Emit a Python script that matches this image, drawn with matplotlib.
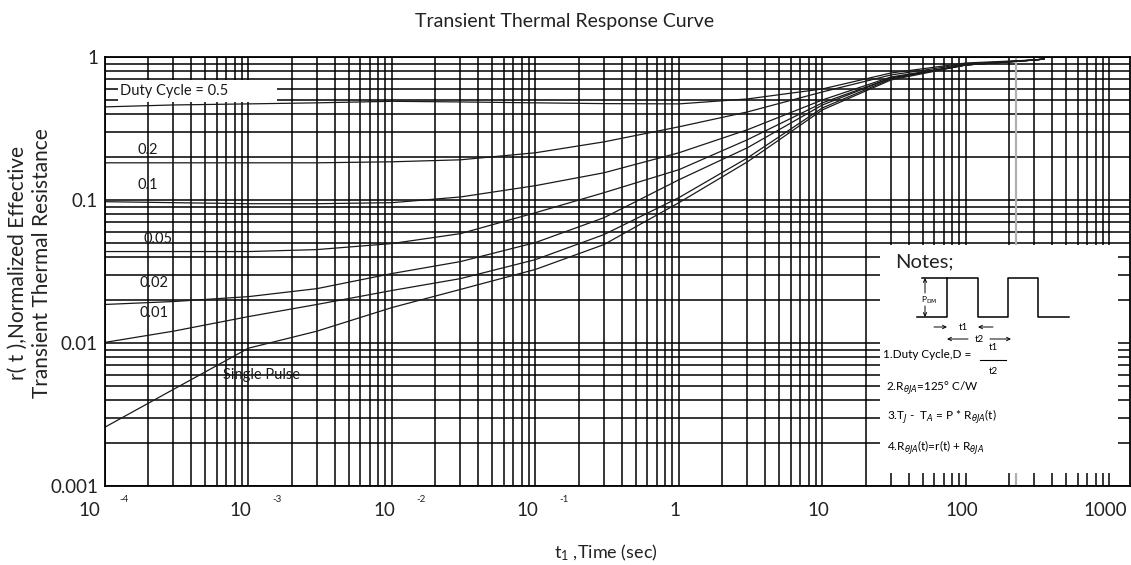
import numpy as np
import matplotlib
matplotlib.use('Agg')
import matplotlib.pyplot as plt
from matplotlib.ticker import LogLocator, NullFormatter
from matplotlib.patches import Rectangle
import matplotlib.transforms as mtransforms

plt.rcParams['font.family'] = ['Lato', 'DejaVu Sans']

# ---------------- data ----------------
time_s = [1e-4, 3e-4, 1e-3, 3e-3, 1e-2, 3e-2, 0.1, 0.3, 1, 3, 10, 30, 100, 300, 350]
r_d05 = [0.448, 0.462, 0.470, 0.478, 0.490, 0.485, 0.478, 0.472, 0.470, 0.509, 0.598, 0.773, 0.908, 0.953, 0.968]
r_d02 = [0.182, 0.182, 0.182, 0.182, 0.185, 0.191, 0.214, 0.255, 0.325, 0.413, 0.570, 0.749, 0.894, 0.953, 0.968]
r_d01 = [0.0973, 0.0958, 0.0942, 0.0942, 0.0958, 0.105, 0.126, 0.155, 0.214, 0.310, 0.501, 0.725, 0.880, 0.953, 0.968]
r_d005 = [0.0436, 0.0436, 0.0436, 0.045, 0.0496, 0.0582, 0.0815, 0.1125, 0.163, 0.264, 0.478, 0.713, 0.880, 0.953, 0.968]
r_d002 = [0.0186, 0.0195, 0.0211, 0.0240, 0.0306, 0.0371, 0.0504, 0.0752, 0.1386, 0.232, 0.462, 0.713, 0.880, 0.953, 0.968]
r_d001 = [0.0101, 0.0121, 0.0153, 0.0186, 0.0233, 0.0282, 0.0383, 0.0573, 0.104, 0.197, 0.441, 0.702, 0.880, 0.953, 0.968]
r_single = [0.00258, 0.00474, 0.0092, 0.0121, 0.0177, 0.0237, 0.0327, 0.0488, 0.0958, 0.185, 0.427, 0.691, 0.880, 0.953, 0.968]
series = [r_d05, r_d02, r_d01, r_d005, r_d002, r_d001, r_single]

curve_labels = ['Duty Cycle = 0.5', '0.2', '0.1', '0.05', '0.02', '0.01', 'Single Pulse']

xtick_values = [1e-4, 1e-3, 1e-2, 1e-1, 1, 10, 100, 1000]
xtick_mantissa = ['10', '10', '10', '10', '1', '10', '100', '1000']
xtick_exponent = ['-4', '-3', '-2', '-1', '', '', '', '']
ytick_values = [1e-3, 1e-2, 1e-1, 1]
ytick_labels = ['0.001', '0.01', '0.1', '1']
gray_line_t = 223

title = 'Transient Thermal Response Curve'
xlabel = r'$\mathregular{t_{1}}$ ,Time (sec)'
ylabel1 = 'r( t ),Normalized Effective'
ylabel2 = 'Transient Thermal Resistance'

# ---------------- figure ----------------
W, H = 1131, 565
fig = plt.figure(figsize=(W / 100, H / 100), dpi=100)
ax = fig.add_axes([105 / W, 79 / H, 1025 / W, 429 / H])
ax.set_xscale('log')
ax.set_yscale('log')
ax.set_xlim(1e-4, 1390)
ax.set_ylim(1e-3, 1)
for axis in (ax.xaxis, ax.yaxis):
    axis.set_major_locator(LogLocator(base=10, numticks=30))
    axis.set_minor_locator(LogLocator(base=10, subs=np.arange(2, 10), numticks=300))
    axis.set_minor_formatter(NullFormatter())
ax.xaxis.set_major_formatter(NullFormatter())
ax.set_yticks(ytick_values, ytick_labels, fontsize=13.5, color='#222222')
ax.tick_params(which='both', length=0)
ax.tick_params(axis='y', pad=5)
ax.grid(True, which='both', color='black', lw=1.1)
ax.set_axisbelow(True)
for s in ax.spines.values():
    s.set_color('black')
    s.set_linewidth(1.3)

ax.axvline(gray_line_t, color='#b0b0b0', lw=1.6, zorder=1)
for r in series:
    ax.plot(time_s, r, color='#1a1a1a', lw=0.9, zorder=2)

# x tick labels (10 with detached exponent)
trans = mtransforms.blended_transform_factory(ax.transData, ax.transAxes)
for i, (t, m, e) in enumerate(zip(xtick_values, xtick_mantissa, xtick_exponent)):
    dx = -8 if e else -4
    if i == 0:
        dx = -16
    tr = mtransforms.offset_copy(trans, fig=fig, x=dx, y=0, units='dots')
    ax.text(t, -24 / 429, m, transform=tr, ha='center', va='center',
            fontsize=13.5, color='#222222', clip_on=False)
    if e:
        ex = 14 if i == 0 else 24
        tr2 = mtransforms.offset_copy(trans, fig=fig, x=ex, y=0, units='dots')
        ax.text(t, -14 / 429, e, transform=tr2, ha='left', va='center',
                fontsize=7, color='#222222', clip_on=False)

# ---------------- overlay in pixel coordinates ----------------
ov = fig.add_axes([0, 0, 1, 1], zorder=5)
ov.set_xlim(0, W)
ov.set_ylim(H, 0)
ov.axis('off')

ov.text(565, 22, title, ha='center', va='center', fontsize=14, color='#222222')
ov.text(606, 553, xlabel, ha='center', va='center', fontsize=13, color='#222222')
ov.text(18, 263, ylabel1, ha='center', va='center', rotation=90, fontsize=15, color='#222222')
ov.text(42, 263, ylabel2, ha='center', va='center', rotation=90, fontsize=15, color='#222222')

# duty cycle label box
ov.add_patch(Rectangle((118, 80), 159, 22, fc='white', ec='none'))
label_pos = [(120, 91), (138, 150), (138, 185), (143, 239), (140, 283), (140, 313), (223, 375)]
for (x, y), lab in zip(label_pos, curve_labels):
    ov.text(x, y, lab, ha='left', va='center', fontsize=10.5, color='#1a1a1a')

# notes box
ov.add_patch(Rectangle((880, 245), 238, 228, fc='white', ec='none'))
ov.text(895, 262, 'Notes;', ha='left', va='center', fontsize=14.5, color='#222222')
ov.plot([917, 947, 947, 978, 978, 1008, 1008, 1038, 1038, 1069],
        [317, 317, 278, 278, 317, 317, 278, 278, 317, 317], color='black', lw=1.1)
ov.plot([922, 947], [278, 278], color='black', lw=1.1)
ap = dict(arrowstyle='->', lw=0.7, shrinkA=0, shrinkB=0, mutation_scale=6)
ov.annotate('', xy=(925, 278), xytext=(925, 293), arrowprops=ap)
ov.annotate('', xy=(925, 317), xytext=(925, 306), arrowprops=ap)
ov.text(921, 300, r'P$_{\rm DM}$', ha='left', va='center', fontsize=6)
ov.annotate('', xy=(947, 327), xytext=(934, 327), arrowprops=ap)
ov.annotate('', xy=(978, 327), xytext=(993, 327), arrowprops=ap)
ov.text(963, 327, 't1', ha='center', va='center', fontsize=7)
ov.annotate('', xy=(947, 339), xytext=(968, 339), arrowprops=ap)
ov.annotate('', xy=(1011, 339), xytext=(990, 339), arrowprops=ap)
ov.text(979, 339, 't2', ha='center', va='center', fontsize=7)

fs = 8.5
ov.text(883, 355, '1.Duty Cycle,D =', ha='left', va='center', fontsize=fs)
ov.text(993, 347, 't1', ha='center', va='center', fontsize=7)
ov.plot([980, 1006], [360, 360], color='black', lw=0.8)
ov.text(993, 371, 't2', ha='center', va='center', fontsize=7)
ov.text(886, 387, r'2.R$_{\theta JA}$=125° C/W', ha='left', va='center', fontsize=fs)
ov.text(887, 417, r'3.T$_{J}$ -  T$_{A}$ = P * R$_{\theta JA}$(t)', ha='left', va='center', fontsize=fs)
ov.text(887, 448, r'4.R$_{\theta JA}$(t)=r(t) + R$_{\theta JA}$', ha='left', va='center', fontsize=fs)

fig.savefig('out.png', dpi=100)
